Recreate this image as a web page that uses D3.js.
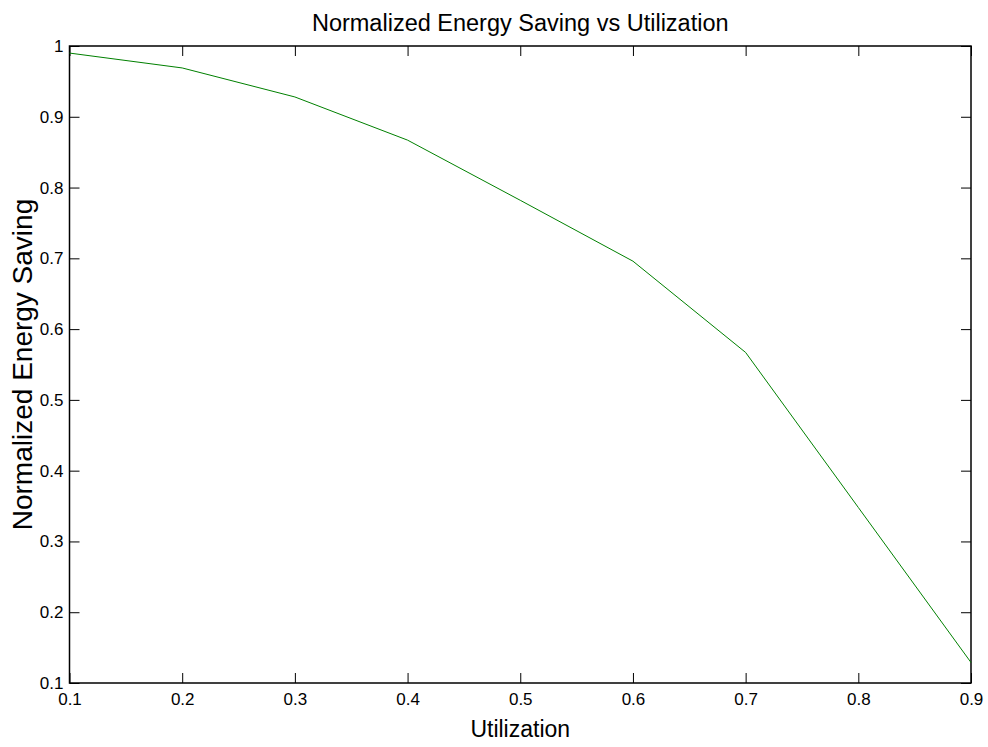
<!DOCTYPE html>
<html>
<head>
<meta charset="utf-8">
<script src="https://cdn.jsdelivr.net/npm/d3@7"></script>
<style>
  body { margin: 0; background: #fff; }
  text { font-family: "Liberation Sans", Arial, sans-serif; fill: #000; }
</style>
</head>
<body>
<svg id="chart"></svg>
<script>
// data
const utilization = [0.1, 0.2, 0.3, 0.4, 0.5, 0.6, 0.7, 0.8, 0.9];
const energySaving = [0.99, 0.969, 0.928, 0.867, 0.782, 0.696, 0.567, 0.348, 0.129];
const xTicks = [0.1, 0.2, 0.3, 0.4, 0.5, 0.6, 0.7, 0.8, 0.9];
const yTicks = [0.1, 0.2, 0.3, 0.4, 0.5, 0.6, 0.7, 0.8, 0.9, 1];

const width = 988, height = 747;
const margin = {top: 46, right: 17, bottom: 64, left: 69.5};
const innerW = width - margin.left - margin.right;
const innerH = height - margin.top - margin.bottom;

const svg = d3.select('#chart')
    .attr('width', width)
    .attr('height', height);

const chart = svg.append('g')
    .attr('transform', `translate(${margin.left}, ${margin.top})`);

const xscale = d3.scaleLinear().domain([0.1, 0.9]).range([0, innerW]);
const yscale = d3.scaleLinear().domain([0.1, 1]).range([innerH, 0]);

const tickLen = 10;
const fmt = d => String(+d.toFixed(1));

// inward ticks on all four sides
const styleAxis = g => {
    g.select('.domain').remove();
    g.selectAll('.tick line').attr('stroke', '#000');
    g.selectAll('.tick text').style('font-size', '17px');
};

chart.append('g')
    .attr('transform', `translate(0, ${innerH})`)
    .call(d3.axisBottom(xscale).tickValues(xTicks).tickSize(-tickLen).tickPadding(10).tickFormat(fmt))
    .call(styleAxis);

chart.append('g')
    .call(d3.axisTop(xscale).tickValues(xTicks).tickSize(-tickLen).tickFormat(''))
    .call(styleAxis);

chart.append('g')
    .call(d3.axisLeft(yscale).tickValues(yTicks).tickSize(-tickLen).tickPadding(6).tickFormat(fmt))
    .call(styleAxis);

chart.append('g')
    .attr('transform', `translate(${innerW}, 0)`)
    .call(d3.axisRight(yscale).tickValues(yTicks).tickSize(-tickLen).tickFormat(''))
    .call(styleAxis);

// box
chart.append('rect')
    .attr('width', innerW)
    .attr('height', innerH)
    .attr('fill', 'none')
    .attr('stroke', '#000')
    .attr('stroke-width', 1.5);

// the curve
const line = d3.line()
    .x((d, i) => xscale(utilization[i]))
    .y(d => yscale(d));

chart.append('path')
    .datum(energySaving)
    .attr('fill', 'none')
    .attr('stroke', '#008000')
    .attr('stroke-width', 1)
    .attr('d', line);

// title and labels
svg.append('text')
    .attr('x', margin.left + innerW / 2)
    .attr('y', 31)
    .attr('text-anchor', 'middle')
    .style('font-size', '23.5px')
    .text('Normalized Energy Saving vs Utilization');

svg.append('text')
    .attr('x', margin.left + innerW / 2)
    .attr('y', 737)
    .attr('text-anchor', 'middle')
    .style('font-size', '23px')
    .text('Utilization');

svg.append('text')
    .attr('transform', `translate(32, ${margin.top + innerH / 2}) rotate(-90)`)
    .attr('text-anchor', 'middle')
    .style('font-size', '28px')
    .text('Normalized Energy Saving');
</script>
</body>
</html>
